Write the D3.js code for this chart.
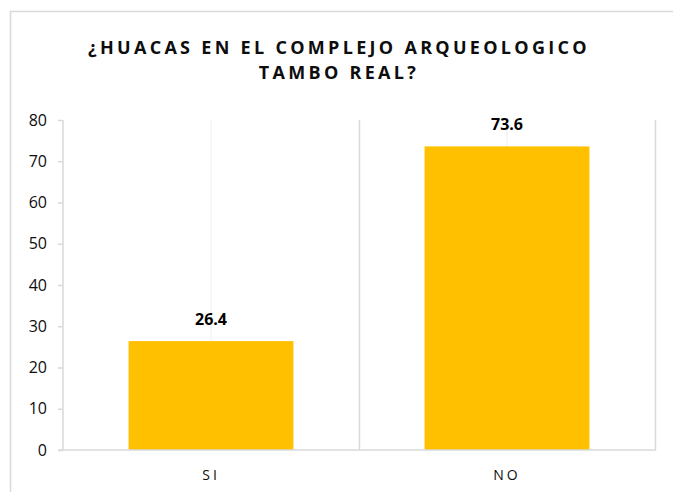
<!DOCTYPE html>
<html><head><meta charset="utf-8">
<script src="https://cdn.jsdelivr.net/npm/d3@7"></script>
<style>body{margin:0;background:#fff}svg{display:block}</style>
</head><body>
<svg id="c" width="673" height="492"></svg>
<script>
const categories = ["SI", "NO"];
const values = [26.4, 73.6];
const yTicks = [0, 10, 20, 30, 40, 50, 60, 70, 80];
const titleLines = ["¿HUACAS EN EL COMPLEJO ARQUEOLOGICO", "TAMBO REAL?"];

const svg = d3.select("#c");
const W = 673, H = 492;
const m = {left: 63, right: 18, top: 120, bottom: 42};
const pw = W - m.left - m.right, ph = H - m.top - m.bottom;

svg.append("rect").attr("x", 10.5).attr("y", 11.5).attr("width", 700).attr("height", 600)
  .attr("fill", "#fff").attr("stroke", "#d9d9d9").attr("stroke-width", 1.5);

const x = d3.scaleBand().domain(categories).range([m.left, m.left + pw]).paddingInner(0).paddingOuter(0);
const y = d3.scaleLinear().domain([0, 80]).range([m.top + ph, m.top]);

const g = svg.append("g");
g.selectAll(".gc").data(categories).join("line")
  .attr("x1", d => x(d) + x.bandwidth() / 2).attr("x2", d => x(d) + x.bandwidth() / 2)
  .attr("y1", y(80)).attr("y2", y(0)).attr("stroke", "#eeeeee").attr("stroke-width", 1);
g.selectAll(".gb").data(categories).join("line")
  .attr("x1", d => x(d) + x.bandwidth() + 0.5).attr("x2", d => x(d) + x.bandwidth() + 0.5)
  .attr("y1", y(80)).attr("y2", y(0)).attr("stroke", "#d9d9d9").attr("stroke-width", 1.5);

const bw = x.bandwidth() * 0.557;
g.selectAll(".bar").data(values).join("rect")
  .attr("x", (d, i) => x(categories[i]) + x.bandwidth() / 2 - bw / 2)
  .attr("width", bw)
  .attr("y", d => y(d)).attr("height", d => y(0) - y(d))
  .attr("fill", "#ffc000");

g.selectAll(".lbl").data(values).join("text")
  .attr("x", (d, i) => x(categories[i]) + x.bandwidth() / 2)
  .attr("y", d => y(d) - 16)
  .attr("text-anchor", "middle").attr("font-family", "Open Sans, sans-serif")
  .attr("font-weight", "bold").attr("font-size", 16).attr("fill", "#000")
  .text(d => d.toFixed(1));

const ya = d3.axisLeft(y).tickValues(yTicks).tickSize(5).tickPadding(11);
const yg = svg.append("g").attr("transform", `translate(${m.left},0)`).call(ya);
yg.select(".domain").attr("stroke", "#d9d9d9").attr("stroke-width", 1.5).attr("d", `M0,${y(80)}V${y(0)}`);
yg.selectAll(".tick line").attr("stroke", "#d9d9d9").attr("stroke-width", 1.5);
yg.selectAll(".tick text").attr("font-family", "Open Sans, sans-serif").attr("font-size", 16).attr("fill", "#0d0d0d");

const xa = d3.axisBottom(x).tickSize(0).tickPadding(20);
const xg = svg.append("g").attr("transform", `translate(0,${y(0)})`).call(xa);
xg.select(".domain").attr("stroke", "#d9d9d9").attr("stroke-width", 1.5).attr("d", `M${m.left - 5},0H${m.left + pw + 1}`);
xg.selectAll(".tick text").attr("font-family", "Open Sans, sans-serif").attr("font-size", 14)
  .attr("letter-spacing", "3px").attr("fill", "#0d0d0d");

titleLines.forEach((t, i) => {
  svg.append("text").attr("x", 339).attr("y", 54 + i * 25)
    .attr("text-anchor", "middle").attr("font-family", "Open Sans, sans-serif")
    .attr("font-weight", "bold").attr("font-size", 18).attr("fill", "#0d0d0d")
    .attr("letter-spacing", "3.3px").text(t);
});
</script>
</body></html>
